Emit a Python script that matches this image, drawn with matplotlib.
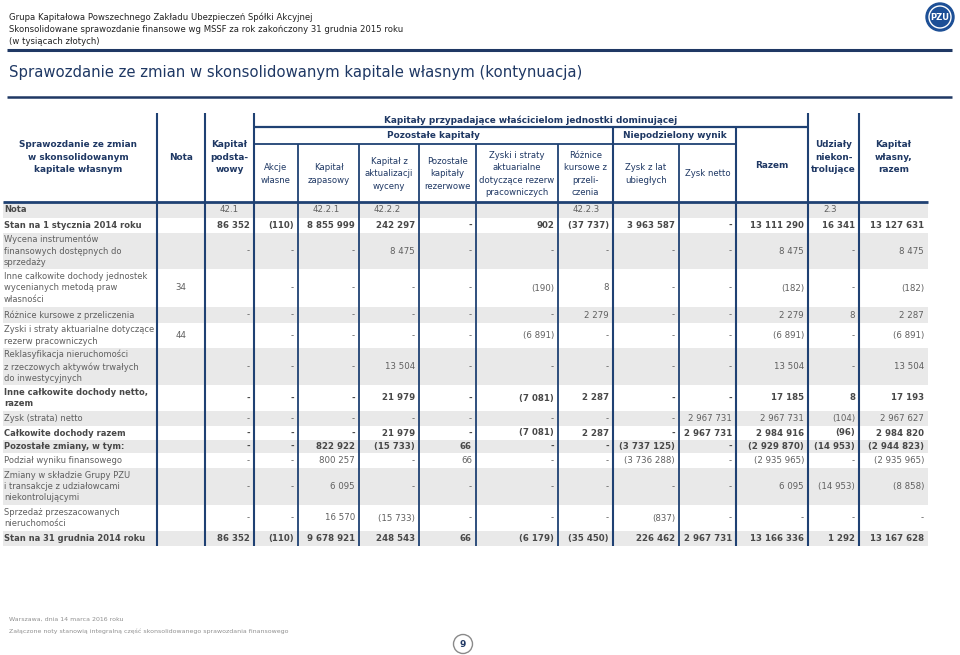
import matplotlib.pyplot as plt
from matplotlib.patches import Circle, Rectangle

# --- texts ---
doc_head = ["Grupa Kapitałowa Powszechnego Zakładu Ubezpieczeń Spółki Akcyjnej",
            "Skonsolidowane sprawozdanie finansowe wg MSSF za rok zakończony 31 grudnia 2015 roku",
            "(w tysiącach złotych)"]
title = "Sprawozdanie ze zmian w skonsolidowanym kapitale własnym (kontynuacja)"
footer = ["Warszawa, dnia 14 marca 2016 roku",
          "Załączone noty stanowią integralną część skonsolidowanego sprawozdania finansowego"]
page_no = "9"

row_labels = ["Stan na 1 stycznia 2014 roku",
              "Wycena instrumentów\nfinansowych dostępnych do\nsprzedaży",
              "Inne całkowite dochody jednostek\nwycenianych metodą praw\nwłasności",
              "Różnice kursowe z przeliczenia",
              "Zyski i straty aktuarialne dotyczące\nrezerw pracowniczych",
              "Reklasyfikacja nieruchomości\nz rzeczowych aktywów trwałych\ndo inwestycyjnych",
              "Inne całkowite dochody netto,\nrazem",
              "Zysk (strata) netto",
              "Całkowite dochody razem",
              "Pozostałe zmiany, w tym:",
              "Podział wyniku finansowego",
              "Zmiany w składzie Grupy PZU\ni transakcje z udziałowcami\nniekontrolującymi",
              "Sprzedaż przeszacowanych\nnieruchomości",
              "Stan na 31 grudnia 2014 roku"]
bold_rows = [0, 6, 8, 9, 13]

nota = ['', '', '34', '', '44', '', '', '', '', '', '', '', '', '']
kapital_podstawowy = ['86 352', '-', '', '-', '', '-', '-', '-', '-', '-', '-', '-', '-', '86 352']
akcje_wlasne = ['(110)', '-', '-', '-', '-', '-', '-', '-', '-', '-', '-', '-', '-', '(110)']
kapital_zapasowy = ['8 855 999', '-', '-', '-', '-', '-', '-', '-', '-', '822 922', '800 257', '6 095', '16 570', '9 678 921']
kapital_z_aktualizacji = ['242 297', '8 475', '-', '-', '-', '13 504', '21 979', '-', '21 979', '(15 733)', '-', '-', '(15 733)', '248 543']
pozostale_rezerwowe = ['-', '-', '-', '-', '-', '-', '-', '-', '-', '66', '66', '-', '-', '66']
zyski_aktuarialne = ['902', '-', '(190)', '-', '(6 891)', '-', '(7 081)', '-', '(7 081)', '-', '-', '-', '-', '(6 179)']
roznice_kursowe = ['(37 737)', '-', '8', '2 279', '-', '-', '2 287', '-', '2 287', '-', '-', '-', '-', '(35 450)']
zysk_lat_ubieglych = ['3 963 587', '-', '-', '-', '-', '-', '-', '-', '-', '(3 737 125)', '(3 736 288)', '-', '(837)', '226 462']
zysk_netto = ['-', '-', '-', '-', '-', '-', '-', '2 967 731', '2 967 731', '-', '-', '-', '-', '2 967 731']
razem = ['13 111 290', '8 475', '(182)', '2 279', '(6 891)', '13 504', '17 185', '2 967 731', '2 984 916', '(2 929 870)', '(2 935 965)', '6 095', '-', '13 166 336']
udzialy_niekontrolujace = ['16 341', '-', '-', '8', '-', '-', '8', '(104)', '(96)', '(14 953)', '-', '(14 953)', '-', '1 292']
kapital_wlasny_razem = ['13 127 631', '8 475', '(182)', '2 287', '(6 891)', '13 504', '17 193', '2 967 627', '2 984 820', '(2 944 823)', '(2 935 965)', '(8 858)', '-', '13 167 628']

value_cols = [kapital_podstawowy, akcje_wlasne, kapital_zapasowy, kapital_z_aktualizacji,
              pozostale_rezerwowe, zyski_aktuarialne, roznice_kursowe, zysk_lat_ubieglych,
              zysk_netto, razem, udzialy_niekontrolujace, kapital_wlasny_razem]
nota_refs = ['42.1', '', '42.2.1', '42.2.2', '', '', '42.2.3', '', '', '', '2.3', '']

# --- layout (pixels) ---
col_edges = [157, 205, 254, 298, 359, 419, 476, 558, 613, 679, 736, 808, 859, 928]
row_edges = [202, 218, 233, 269, 307, 323, 348, 385, 411, 426, 440, 453, 468, 505, 531, 546]

BLUE = '#1f3864'
LINE = '#1f4173'
GRAY_BG = '#e9e9e9'
TXT = '#5f5f5f'
TXT_B = '#484848'
FS_LBL = 6.0
FS_NUM = 6.2
FS_HB = 6.4
FS_HN = 6.1

fig = plt.figure(figsize=(9.6, 6.55), dpi=100)
ax = fig.add_axes([0, 0, 1, 1])
ax.set_xlim(0, 960)
ax.set_ylim(655, 0)
ax.axis('off')

# header of the document
for i, s in enumerate(doc_head):
    ax.text(9, 17 + i * 12, s, fontsize=6.1, color='#222222', va='center')
ax.plot([7, 952], [50, 50], color=BLUE, lw=2.2, solid_capstyle='butt')
ax.text(9, 72, title, fontsize=10.7, color=BLUE, va='center')
ax.plot([7, 952], [97, 97], color=BLUE, lw=1.8, solid_capstyle='butt')

# logo
ax.add_patch(Circle((940, 17), 14, color='#1c4f96'))
ax.add_patch(Circle((940, 17), 11, fill=False, ec='white', lw=1.0))
ax.text(940, 17.5, "PZU", fontsize=6, color='white', fontweight='bold', ha='center', va='center')

# row backgrounds
n_rows = len(row_edges) - 1
for r in range(0, n_rows, 2):
    ax.add_patch(Rectangle((3, row_edges[r]), 925, row_edges[r + 1] - row_edges[r],
                           color=GRAY_BG, lw=0, zorder=0))

# column headers
hb = dict(fontsize=FS_HB, color=BLUE, ha='center', va='center', linespacing=1.45, fontweight='bold')
hn = dict(fontsize=FS_HN, color=BLUE, ha='center', va='center', linespacing=1.5)
ax.text(78, 157, "Sprawozdanie ze zmian\nw skonsolidowanym\nkapitale własnym", **hb)
ax.text(181, 157, "Nota", **hb)
ax.text(229.5, 157, "Kapitał\npodsta-\nwowy", **hb)
ax.text(531, 120, "Kapitały przypadające właścicielom jednostki dominującej", **hb)
ax.text(433.5, 136, "Pozostałe kapitały", **hb)
ax.text(674.5, 136, "Niepodzielony wynik", **hb)
ax.text(772, 166, "Razem", **hb)
ax.text(833.5, 157, "Udziały\nniekon-\ntrolujące", **hb)
ax.text(893.5, 157, "Kapitał\nwłasny,\nrazem", **hb)
sub_heads = ["Akcje\nwłasne", "Kapitał\nzapasowy", "Kapitał z\naktualizacji\nwyceny",
             "Pozostałe\nkapitały\nrezerwowe",
             "Zyski i straty\naktuarialne\ndotyczące rezerw\npracowniczych",
             "Różnice\nkursowe z\nprzeli-\nczenia", "Zysk z lat\nubiegłych", "Zysk netto"]
for i, s in enumerate(sub_heads):
    cx = (col_edges[i + 2] + col_edges[i + 3]) / 2
    ax.text(cx, 174, s, **hn)

# grid lines
for x in [157, 205, 254, 808, 859]:
    ax.plot([x, x], [113, 546], color=LINE, lw=1.5, solid_capstyle='butt')
for x in [613, 736]:
    ax.plot([x, x], [127, 546], color=LINE, lw=1.5, solid_capstyle='butt')
for x in [298, 359, 419, 476, 558, 679]:
    ax.plot([x, x], [144, 546], color=LINE, lw=1.3, solid_capstyle='butt')
ax.plot([254, 808], [127, 127], color=LINE, lw=1.6, solid_capstyle='butt')
ax.plot([254, 736], [144, 144], color=LINE, lw=1.3, solid_capstyle='butt')
ax.plot([3, 928], [202, 202], color=LINE, lw=2.0, solid_capstyle='butt')

# Nota row
yc = (row_edges[0] + row_edges[1]) / 2
ax.text(4, yc, "Nota", fontsize=FS_LBL, color=TXT_B, fontweight='bold', va='center')
for j, ref in enumerate(nota_refs):
    ax.text(col_edges[j + 1] + 15, yc, ref, fontsize=FS_NUM, color=TXT, va='center')

# data rows
for r, label in enumerate(row_labels):
    y0, y1 = row_edges[r + 1], row_edges[r + 2]
    yc = (y0 + y1) / 2
    b = r in bold_rows
    fw = 'bold' if b else 'normal'
    col = TXT_B if b else TXT
    ax.text(4, yc, label, fontsize=FS_LBL, color=col, fontweight=fw, va='center', linespacing=1.35)
    ax.text(181, yc, nota[r], fontsize=FS_NUM, color=TXT, ha='center', va='center')
    for j, vals in enumerate(value_cols):
        ax.text(col_edges[j + 2] - 4, yc, vals[r], fontsize=FS_NUM, color=col, fontweight=fw,
                ha='right', va='center')

# footer
ax.text(9, 619, footer[0], fontsize=4.5, color='#909090', va='center')
ax.text(9, 631, footer[1], fontsize=4.5, color='#909090', va='center')
ax.add_patch(Circle((463, 644), 9.5, fill=False, ec='#8a8a8a', lw=1.0))
ax.text(463, 644.5, page_no, fontsize=6.5, color=BLUE, fontweight='bold', ha='center', va='center')

fig.savefig("out.png", dpi=100)
